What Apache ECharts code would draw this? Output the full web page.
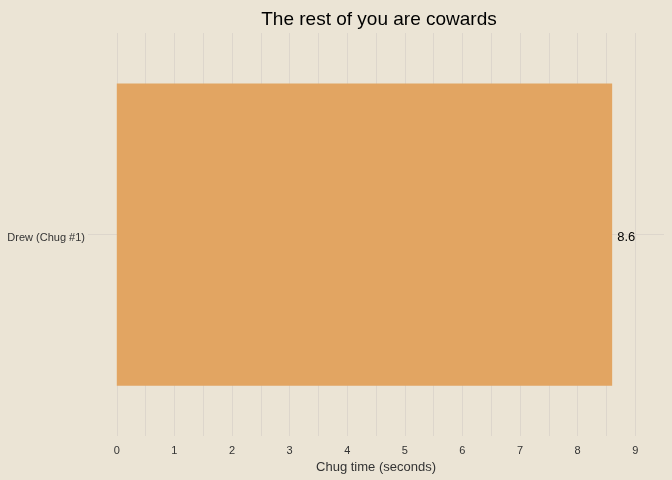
<!DOCTYPE html>
<html>
<head>
<meta charset="utf-8">
<script src="https://cdn.jsdelivr.net/npm/echarts@6/dist/echarts.min.js"></script>
<style>
html,body{margin:0;padding:0;background:#ebe4d5;}
#chart{width:672px;height:480px;}
</style>
</head>
<body>
<div id="chart"></div>
<script>
const categories = ['Drew (Chug #1)'];
const chugTimes = [8.6];
const titleText = 'The rest of you are cowards';
const xAxisName = 'Chug time (seconds)';

const chart = echarts.init(document.getElementById('chart'), null, {renderer: 'canvas'});
const font = '"Liberation Sans", Arial, sans-serif';
const grid = '#ddd6cc';
chart.setOption({
  backgroundColor: '#ebe4d5',
  animation: false,
  title: {
    text: titleText,
    left: 374, top: 5, textAlign: 'center',
    textStyle: {fontFamily: font, fontSize: 19, fontWeight: 'normal', color: '#000'}
  },
  grid: {left: 88, right: 8, top: 33, bottom: 44, containLabel: false, outerBoundsMode: 'none'},
  xAxis: {
    type: 'value', min: -0.5, max: 9.5, interval: 0.5,
    name: xAxisName, nameLocation: 'middle', nameGap: 24,
    nameTextStyle: {fontFamily: font, fontSize: 13, color: '#333'},
    axisLine: {show: false}, axisTick: {show: false},
    axisLabel: {
      fontFamily: font, fontSize: 11, color: '#333', margin: 9,
      formatter: v => (Math.abs(v - Math.round(v)) < 1e-9 && v >= 0 && v <= 9) ? String(Math.round(v)) : ''
    },
    splitLine: {show: true, showMinLine: false, showMaxLine: false, lineStyle: {color: grid, width: 1}}
  },
  yAxis: {
    type: 'category', data: categories,
    axisLine: {show: false}, axisTick: {show: false},
    axisLabel: {fontFamily: font, fontSize: 11, color: '#333', margin: 3, verticalAlign: 'top', lineHeight: 6},
    splitLine: {show: false}
  },
  series: [{
    type: 'bar', data: chugTimes, barWidth: '75%',
    itemStyle: {color: '#e2a562'},
    label: {show: true, position: 'right', distance: 5, offset: [0, 3], fontFamily: font, fontSize: 13, color: '#000',
      formatter: p => p.value.toFixed(1)},
    markLine: {
      silent: true, symbol: 'none', z: 0,
      label: {show: false},
      lineStyle: {color: grid, type: 'solid', width: 1},
      data: [{yAxis: categories[0]}]
    }
  }]
});
</script>
</body>
</html>
